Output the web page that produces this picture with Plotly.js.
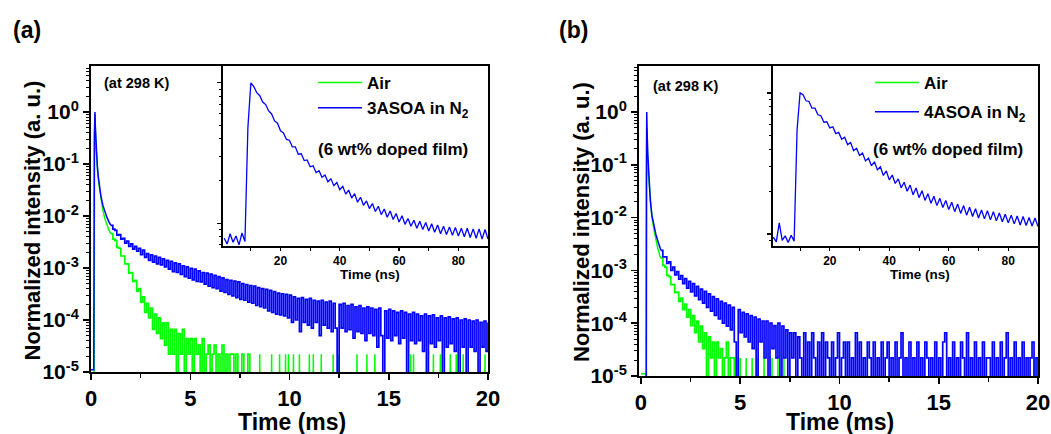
<!DOCTYPE html>
<html>
<head>
<meta charset="utf-8">
<script src="https://cdn.plot.ly/plotly-3.0.1.min.js"></script>
<style>html,body{margin:0;padding:0;background:#fff;}#chart{width:1051px;height:434px;}</style>
</head>
<body>
<div id="chart"></div>
<script>
// ---------------- DATA ----------------
// Panel (a): main decay, time in ms, normalized intensity
const airA_earlyT = [0, 0.15, 0.18, 0.2, 0.22, 0.25, 0.3, 0.35, 0.4, 0.5, 0.6, 0.7, 0.8, 0.9, 1.0];
const airA_earlyI = [1e-6, 1e-6, 0.3, 0.9, 0.5, 0.22, 0.1, 0.06, 0.04, 0.021, 0.013, 0.0088, 0.0066, 0.0054, 0.0046];
// sampled every 0.1 ms from 1.0 ms to 8.0 ms
const airA_tail = [4.6e-3,3.6e-3,3.4e-3,2.5e-3,2.4e-3,1.7e-3,1.7e-3,1.2e-3,1.2e-3,8.0e-4,
 8.2e-4,5.5e-4,5.8e-4,3.6e-4,4.0e-4,2.2e-4,2.8e-4,1.4e-4,2.1e-4,1.1e-4,
 1.7e-4,6.6e-5,1.3e-4,5.5e-5,1.1e-4,4.4e-5,8.8e-5,3.3e-5,8.8e-5,2.2e-5,
 6.6e-5,2.2e-5,6.6e-5,1e-6,5.5e-5,2.2e-5,6.6e-5,1e-6,4.4e-5,2.2e-5,
 4.4e-5,1e-6,4.4e-5,2.2e-5,3.3e-5,1e-6,4.4e-5,1e-6,2.2e-5,3.3e-5,
 1e-6,2.2e-5,3.3e-5,1e-6,2.2e-5,1e-6,3.3e-5,1e-6,2.2e-5,1e-6,
 2.2e-5,2.2e-5,1e-6,2.2e-5,1e-6,1e-6,2.2e-5,1e-6,1e-6,2.2e-5,
 1e-6];
// isolated single-count events after 8 ms (time in ms, level)
const airA_spikeT = [8.5,9.1,9.5,9.8,9.95,10.2,10.5,11.0,11.2,11.6,12.2,12.45,13.4,13.9,14.3,16.1,16.25,16.9,17.25,17.6,18.1,18.4,18.75,19.85];
const airA_spikeI = [2.2e-5,2.2e-5,2.2e-5,2.2e-5,2.2e-5,2.2e-5,2.2e-5,2.2e-5,2.2e-5,2.2e-5,2.2e-5,2.2e-5,2.2e-5,2.2e-5,2.2e-5,2.2e-5,2.2e-5,2.2e-5,2.2e-5,2.2e-5,2.2e-5,2.2e-5,2.2e-5,2.2e-5];

const n2A_earlyT = [0, 0.14, 0.17, 0.2, 0.22, 0.25, 0.28, 0.32, 0.36, 0.4, 0.45, 0.5, 0.6, 0.7, 0.8, 0.9, 1.0];
const n2A_earlyI = [1.1e-5, 1.1e-5, 0.35, 1.0, 0.5, 0.22, 0.14, 0.09, 0.06, 0.045, 0.032, 0.024, 0.016, 0.012, 0.0095, 0.0078, 0.0066];
// sampled every 0.1 ms from 1.0 ms to 20.0 ms
const n2A_tail = [6.6e-3,5.6e-3,5.3e-3,4.3e-3,4.4e-3,3.6e-3,3.7e-3,3.0e-3,3.3e-3,2.6e-3,
 2.9e-3,2.3e-3,2.6e-3,2.1e-3,2.4e-3,1.8e-3,2.2e-3,1.6e-3,1.9e-3,1.4e-3,
 1.8e-3,1.3e-3,1.7e-3,1.2e-3,1.6e-3,1.15e-3,1.5e-3,1.05e-3,1.4e-3,9.5e-4,
 1.35e-3,8.5e-4,1.25e-3,8.2e-4,1.2e-3,7.5e-4,1.1e-3,6.8e-4,1.05e-3,6.4e-4,
 9.8e-4,5.9e-4,9.5e-4,5.5e-4,8.8e-4,5.4e-4,8.2e-4,4.9e-4,8.0e-4,4.5e-4,
 7.6e-4,4.2e-4,7.2e-4,4.0e-4,6.8e-4,3.6e-4,6.5e-4,3.4e-4,6.0e-4,3.1e-4,
 5.8e-4,2.9e-4,5.6e-4,2.7e-4,5.4e-4,2.5e-4,5.0e-4,2.4e-4,4.8e-4,2.2e-4,
 4.6e-4,2.1e-4,4.5e-4,1.9e-4,4.2e-4,1.8e-4,4.0e-4,1.7e-4,3.9e-4,1.5e-4,
 3.7e-4,1.4e-4,3.5e-4,1.3e-4,3.3e-4,1.25e-4,3.2e-4,1.2e-4,3.1e-4,1.1e-4,
 3.0e-4,9e-5,2.8e-4,1.0e-4,2.6e-4,6e-5,2.7e-4,9e-5,2.5e-4,8e-5,
 2.6e-4,7e-5,2.4e-4,9e-5,2.3e-4,5e-5,2.4e-4,8e-5,2.2e-4,7e-5,
 2.3e-4,6e-5,2.1e-4,7e-5,1e-6,2.0e-4,7e-5,2.1e-4,6e-5,1.9e-4,
 6.5e-5,2.0e-4,4.5e-5,1.8e-4,6e-5,1.9e-4,5.5e-5,1.7e-4,4e-5,1.8e-4,
 5.5e-5,1.7e-4,5e-5,1.6e-4,3e-5,1.7e-4,5e-5,1e-6,1.5e-4,4.5e-5,
 1.6e-4,4e-5,1.5e-4,5e-5,1.4e-4,3.5e-5,1.5e-4,4.5e-5,1.4e-4,1e-6,
 1.3e-4,4e-5,1.4e-4,3.5e-5,1.3e-4,4e-5,1.2e-4,2.5e-5,1.3e-4,1e-6,
 1.2e-4,3.5e-5,1.25e-4,3e-5,1.1e-4,4e-5,1.2e-4,1e-6,1.1e-4,3e-5,
 1.15e-4,3.5e-5,1.05e-4,2.5e-5,1.1e-4,1e-6,1.0e-4,3e-5,1.05e-4,1e-6,
 1.0e-4,3e-5,9.5e-5,2.5e-5,1.0e-4,1e-6,9e-5,3e-5,9.5e-5,2.5e-5,
 9e-5];

// Panel (a) inset: prompt decay, sampled every 1 ns from 1 ns to 90 ns
const insetA = [0.078,0.071,0.084,0.073,0.081,0.070,0.085,0.074,0.48,1.0,
 0.94,0.85,0.81,0.73,0.70,0.63,0.60,0.535,0.515,0.455,
 0.44,0.395,0.39,0.35,0.35,0.31,0.312,0.279,0.282,0.252,
 0.256,0.229,0.236,0.212,0.220,0.197,0.207,0.185,0.195,0.173,
 0.183,0.161,0.172,0.151,0.162,0.141,0.153,0.134,0.144,0.127,
 0.138,0.121,0.132,0.115,0.126,0.110,0.122,0.106,0.117,0.102,
 0.113,0.098,0.108,0.095,0.105,0.092,0.103,0.090,0.101,0.088,
 0.099,0.086,0.097,0.084,0.095,0.083,0.094,0.082,0.093,0.081,
 0.092,0.080,0.092,0.079,0.091,0.078,0.091,0.077,0.090,0.077];

// Panel (b)
const airB_earlyT = [0, 0.26, 0.27, 0.3, 0.33, 0.37, 0.42, 0.47, 0.55, 0.65, 0.75, 0.85, 0.95, 1.0];
const airB_earlyI = [1.1e-5, 1.1e-5, 1e-6, 0.5, 0.15, 0.07, 0.038, 0.02, 0.0105, 0.006, 0.0037, 0.0026, 0.0019, 0.0017];
// sampled every 0.1 ms from 1.0 ms to 5.0 ms
const airB_tail = [1.7e-3,1.25e-3,1.15e-3,8.0e-4,7.6e-4,5.4e-4,5.4e-4,3.8e-4,3.9e-4,2.6e-4,
 3.0e-4,1.8e-4,2.3e-4,1.3e-4,1.8e-4,9e-5,1.4e-4,6.6e-5,1.1e-4,4.4e-5,
 8.8e-5,3.3e-5,6.6e-5,1e-6,5.5e-5,2.2e-5,4.4e-5,1e-6,4.4e-5,2.2e-5,
 3.3e-5,1e-6,2.2e-5,4.4e-5,1e-6,2.2e-5,2.2e-5,1e-6,2.2e-5,1e-6,
 2.2e-5];
const airB_spikeT = [5.3,5.6,5.9,6.2,6.6,6.9,7.2,15.7,19.8];
const airB_spikeI = [2.2e-5,2.2e-5,2.2e-5,2.2e-5,2.2e-5,2.2e-5,2.2e-5,2.2e-5,2.2e-5];

const n2B_earlyT = [0, 0.26, 0.27, 0.29, 0.31, 0.34, 0.38, 0.42, 0.47, 0.55, 0.65, 0.75, 0.85, 0.95, 1.0];
const n2B_earlyI = [1e-6, 1e-6, 0.05, 1.0, 0.4, 0.17, 0.09, 0.045, 0.021, 0.011, 0.0068, 0.0048, 0.0036, 0.0028, 0.0024];
// sampled every 0.1 ms from 1.0 ms to 20.0 ms
const n2B_tail = [2.4e-3,1.8e-3,1.8e-3,1.35e-3,1.45e-3,1.0e-3,1.15e-3,8.2e-4,9.5e-4,6.8e-4,
 8.0e-4,5.6e-4,7.0e-4,4.6e-4,6.2e-4,3.9e-4,5.6e-4,3.3e-4,5.0e-4,2.8e-4,
 4.4e-4,2.4e-4,4.0e-4,2.0e-4,3.6e-4,1.7e-4,3.2e-4,1.4e-4,2.9e-4,1.2e-4,
 2.6e-4,1.0e-4,2.4e-4,8.8e-5,2.2e-4,7.5e-5,2.0e-4,4.4e-5,1e-6,1.8e-4,
 6.6e-5,1.6e-4,5.5e-5,1.5e-4,4.4e-5,1.4e-4,3.3e-5,1.3e-4,1e-6,1.2e-4,
 4.4e-5,1.1e-4,2.2e-5,1.1e-4,1e-6,1.0e-4,3.3e-5,9e-5,2.2e-5,1.0e-4,
 1e-6,8.8e-5,2.2e-5,7.5e-5,1e-6,6.6e-5,2.2e-5,6.6e-5,1e-6,5.5e-5,
 2.2e-5,1e-6,6.6e-5,1e-6,4.4e-5,1e-6,6.6e-5,2.2e-5,1e-6,4.4e-5,
 1e-6,6.6e-5,1e-6,4.4e-5,2.2e-5,1e-6,4.4e-5,1e-6,2.2e-5,6.6e-5,
 1e-6,2.2e-5,4.4e-5,1e-6,4.4e-5,1e-6,2.2e-5,1e-6,6.6e-5,1e-6,
 4.4e-5,1e-6,2.2e-5,1e-6,4.4e-5,2.2e-5,1e-6,4.4e-5,1e-6,2.2e-5,
 1e-6,4.4e-5,1e-6,2.2e-5,4.4e-5,1e-6,2.2e-5,1e-6,4.4e-5,1e-6,
 2.2e-5,6.6e-5,1e-6,2.2e-5,1e-6,4.4e-5,1e-6,2.2e-5,1e-6,4.4e-5,
 1e-6,2.2e-5,1e-6,4.4e-5,2.2e-5,1e-6,2.2e-5,1e-6,4.4e-5,1e-6,
 2.2e-5,1e-6,4.4e-5,6.6e-5,1e-6,2.2e-5,1e-6,4.4e-5,1e-6,2.2e-5,
 1e-6,4.4e-5,2.2e-5,1e-6,6.6e-5,1e-6,2.2e-5,1e-6,4.4e-5,1e-6,
 2.2e-5,1e-6,4.4e-5,1e-6,2.2e-5,2.2e-5,1e-6,4.4e-5,1e-6,2.2e-5,
 1e-6,4.4e-5,1e-6,2.2e-5,6.6e-5,1e-6,2.2e-5,1e-6,4.4e-5,1e-6,
 2.2e-5,1e-6,4.4e-5,1e-6,2.2e-5,1e-6,2.2e-5,4.4e-5,1e-6,2.2e-5,
 1e-6];

// Panel (b) inset: prompt decay, sampled every 1 ns from 1 ns to 90 ns
const insetB = [0.095,0.088,0.12,0.09,0.097,0.087,0.098,0.089,0.55,1.0,
 0.97,0.88,0.87,0.78,0.78,0.70,0.69,0.62,0.625,0.565,
 0.575,0.515,0.525,0.47,0.485,0.43,0.445,0.39,0.405,0.36,
 0.375,0.33,0.345,0.305,0.325,0.285,0.30,0.26,0.28,0.242,
 0.262,0.228,0.246,0.213,0.233,0.201,0.222,0.190,0.212,0.181,
 0.203,0.173,0.193,0.165,0.185,0.159,0.179,0.154,0.173,0.149,
 0.168,0.144,0.163,0.140,0.159,0.136,0.155,0.133,0.151,0.130,
 0.148,0.128,0.146,0.126,0.144,0.124,0.141,0.122,0.138,0.120,
 0.136,0.118,0.134,0.116,0.133,0.115,0.131,0.114,0.130,0.113];

const yTickVals = [1e-5, 1e-4, 1e-3, 1e-2, 1e-1, 1];
const yTickText = ['10<sup>-5</sup>','10<sup>-4</sup>','10<sup>-3</sup>','10<sup>-2</sup>','10<sup>-1</sup>','10<sup>0</sup>'];
const seriesNames = {air: 'Air', n2A: '3ASOA in N<sub>2</sub>', n2B: '4ASOA in N<sub>2</sub>'};

// ---------------- STYLE / LAYOUT ----------------
const W = 1051, H = 434;
const FONT = 'Liberation Sans, Arial, sans-serif';
const GREEN = '#00ff00', BLUE = '#0000ff';
const px = v => v / W;
const py = v => 1 - v / H;

function spikes(ts, levels) {
  const x = [], y = [];
  ts.forEach((t, i) => { x.push(t - 0.02, t, t + 0.02); y.push(1e-6, levels[i], 1e-6); });
  return {x, y};
}

const sA = spikes(airA_spikeT, airA_spikeI);
const sB = spikes(airB_spikeT, airB_spikeI);

const lineG = {color: GREEN, width: 1.5};
const lineB = {color: BLUE, width: 1.5};
const lineGs = {color: GREEN, width: 1.7, shape: 'hv'};
const lineBs = {color: BLUE, width: 1.7, shape: 'hv'};
const lineIn = {color: BLUE, width: 1.3};

const traces = [
  // panel a
  {type:'scatter', mode:'lines', x: airA_earlyT, y: airA_earlyI, xaxis:'x', yaxis:'y', line: lineG, name: seriesNames.air, legendgroup:'ga', legend:'legend'},
  {type:'scatter', mode:'lines', x0: 1.0, dx: 0.1, y: airA_tail, xaxis:'x', yaxis:'y', line: lineGs, showlegend:false, legendgroup:'ga', legend:'legend'},
  {type:'scatter', mode:'lines', x: sA.x, y: sA.y, xaxis:'x', yaxis:'y', line: lineG, showlegend:false, legendgroup:'ga', legend:'legend'},
  {type:'scatter', mode:'lines', x: n2A_earlyT, y: n2A_earlyI, xaxis:'x', yaxis:'y', line: lineB, name: seriesNames.n2A, legendgroup:'ba', legend:'legend'},
  {type:'scatter', mode:'lines', x0: 1.0, dx: 0.1, y: n2A_tail, xaxis:'x', yaxis:'y', line: lineBs, showlegend:false, legendgroup:'ba', legend:'legend'},
  {type:'scatter', mode:'lines', x0: 1, dx: 1, y: insetA, xaxis:'x2', yaxis:'y2', line: lineIn, showlegend:false},
  // panel b
  {type:'scatter', mode:'lines', x: airB_earlyT, y: airB_earlyI, xaxis:'x3', yaxis:'y3', line: lineG, name: seriesNames.air, legendgroup:'gb', legend:'legend2'},
  {type:'scatter', mode:'lines', x0: 1.0, dx: 0.1, y: airB_tail, xaxis:'x3', yaxis:'y3', line: lineGs, showlegend:false, legendgroup:'gb', legend:'legend2'},
  {type:'scatter', mode:'lines', x: sB.x, y: sB.y, xaxis:'x3', yaxis:'y3', line: lineG, showlegend:false, legendgroup:'gb', legend:'legend2'},
  {type:'scatter', mode:'lines', x: n2B_earlyT, y: n2B_earlyI, xaxis:'x3', yaxis:'y3', line: lineB, name: seriesNames.n2B, legendgroup:'bb', legend:'legend2'},
  {type:'scatter', mode:'lines', x0: 1.0, dx: 0.1, y: n2B_tail, xaxis:'x3', yaxis:'y3', line: lineBs, showlegend:false, legendgroup:'bb', legend:'legend2'},
  {type:'scatter', mode:'lines', x0: 1, dx: 1, y: insetB, xaxis:'x4', yaxis:'y4', line: lineIn, showlegend:false}
];

const tickFontBig = {family: FONT, size: 22, color: '#000', weight: 700};
const tickFontY = {family: FONT, size: 21, color: '#000', weight: 700};
const tickFontSmall = {family: FONT, size: 12, color: '#000', weight: 700};

function mainX(domain, range, anchor) {
  return {domain, range, anchor, showline:true, linecolor:'#000', linewidth:2, mirror:true,
    ticks:'outside', ticklen:6, tickwidth:1.5, tickcolor:'#000', tick0:0, dtick:5,
    minor:{dtick:2.5, ticks:'outside', ticklen:4, tickwidth:1.5, tickcolor:'#000'},
    showgrid:false, zeroline:false, tickfont: tickFontBig};
}
function mainY(domain, range, anchor) {
  return {domain, range, anchor, type:'log', showline:true, linecolor:'#000', linewidth:2, mirror:true,
    ticks:'outside', ticklen:6, tickwidth:1.5, tickcolor:'#000',
    tickmode:'array', tickvals: yTickVals, ticktext: yTickText,
    minor:{dtick:'D1', ticks:'outside', ticklen:3, tickwidth:1, tickcolor:'#000'},
    showgrid:false, zeroline:false, tickfont: tickFontY};
}
function insetX(domain, range, anchor) {
  return {domain, range, anchor, showline:true, linecolor:'#000', linewidth:2, mirror:false,
    ticks:'outside', ticklen:3, tickwidth:1.2, tickcolor:'#000', tick0:0, dtick:20,
    minor:{dtick:10, ticks:'outside', ticklen:3, tickwidth:1, tickcolor:'#000'},
    showgrid:false, zeroline:false, tickfont: tickFontSmall};
}
function insetY(domain, range, anchor) {
  return {domain, range, anchor, type:'log', showline:true, linecolor:'#000', linewidth:2, mirror:false,
    ticks:'outside', ticklen:4, tickwidth:1.2, tickcolor:'#000',
    tickmode:'array', tickvals:[0.1, 1], showticklabels:false,
    minor:{dtick:'D1', ticks:'outside', ticklen:2.5, tickwidth:1, tickcolor:'#000'},
    showgrid:false, zeroline:false};
}

function ann(text, x, y, size, extra) {
  return Object.assign({text, x: px(x), y: py(y), xref:'paper', yref:'paper', xanchor:'center', yanchor:'middle',
    showarrow:false, font:{family: FONT, size, color:'#000', weight:700}}, extra || {});
}

const legendFont = {family: FONT, size: 17, color:'#000', weight:700};

const layout = {
  width: W, height: H,
  margin: {l:0, r:0, t:0, b:0, pad:0},
  paper_bgcolor:'#fff', plot_bgcolor:'rgba(0,0,0,0)',
  font: {family: FONT, color:'#000'},
  showlegend: true,
  xaxis:  mainX([px(91), px(488)], [0, 20], 'y'),
  yaxis:  mainY([py(372), py(66)], [-5, 0.885], 'x'),
  xaxis2: insetX([px(223), px(488)], [0.6, 90], 'y2'),
  yaxis2: insetY([py(246), py(66)], [-1.163, 0.12], 'x2'),
  xaxis3: mainX([px(639), px(1038)], [-0.1, 20], 'y3'),
  yaxis3: mainY([py(376), py(66)], [-5, 0.871], 'x3'),
  xaxis4: insetX([px(773), px(1038)], [0.9, 90], 'y4'),
  yaxis4: insetY([py(246), py(66)], [-1.085, 0.191], 'x4'),
  legend:  {x: px(313), y: py(65), xanchor:'left', yanchor:'top', bgcolor:'rgba(0,0,0,0)', borderwidth:0, font: legendFont, tracegroupgap:0, itemwidth:44},
  legend2: {x: px(870), y: py(65), xanchor:'left', yanchor:'top', bgcolor:'rgba(0,0,0,0)', borderwidth:0, font: legendFont, tracegroupgap:4, itemwidth:44},
  annotations: [
    ann('(a)', 27, 30, 23),
    ann('(b)', 573, 30, 23),
    ann('(at 298 K)', 136.5, 83.5, 14.5),
    ann('(at 298 K)', 685, 86, 14.5),
    ann('(6 wt% doped film)', 393, 150, 17),
    ann('(6 wt% doped film)', 947.5, 150, 17),
    ann('Normalized intensity (a. u.)', 32, 220.5, 22, {textangle:-90}),
    ann('Normalized intensity (a. u.)', 581, 222, 22, {textangle:-90}),
    ann('Time (ms)', 292, 422, 23),
    ann('Time (ms)', 840, 422, 23),
    ann('Time (ns)', 370, 274, 13.5),
    ann('Time (ns)', 920, 274, 13.5)
  ]
};

Plotly.newPlot('chart', traces, layout, {displayModeBar:false, staticPlot:true});
</script>
</body>
</html>
